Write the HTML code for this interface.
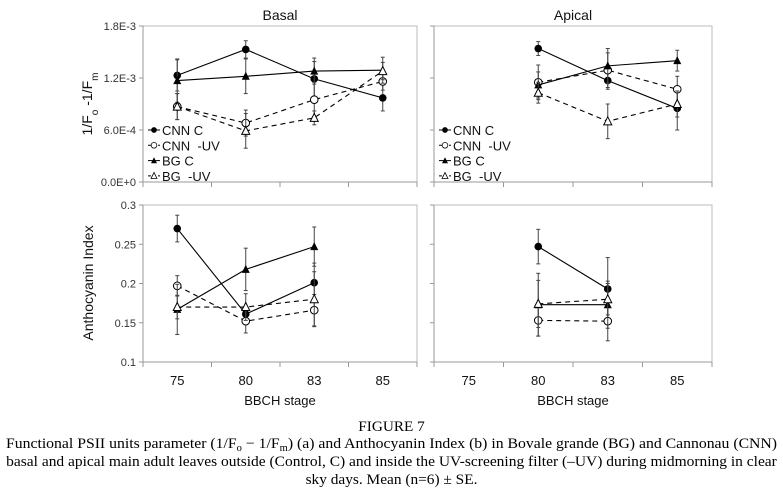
<!DOCTYPE html>
<html><head><meta charset="utf-8"><style>
html,body{margin:0;padding:0;background:#fff;}
svg{display:block;font-family:"Liberation Sans",Arial,sans-serif;}
</style></head><body>
<svg id="fig" width="783" height="497" viewBox="0 0 783 497" xmlns="http://www.w3.org/2000/svg">
<g id="panels"></g>
<text class="cap" data-w="67" data-y="431" x="0" y="0" text-anchor="middle" font-family="Liberation Serif,serif" font-size="15">FIGURE 7</text>
<text class="cap" data-w="772" data-y="448" x="0" y="0" text-anchor="middle" font-family="Liberation Serif,serif" font-size="15">Functional PSII units parameter (1/F<tspan font-size="10" dy="3">o</tspan><tspan dy="-3"> − 1/F</tspan><tspan font-size="10" dy="3">m</tspan><tspan dy="-3">) (a) and Anthocyanin Index (b) in Bovale grande (BG) and Cannonau (CNN)</tspan></text>
<text class="cap" data-w="771" data-y="466" x="0" y="0" text-anchor="middle" font-family="Liberation Serif,serif" font-size="15">basal and apical main adult leaves outside (Control, C) and inside the UV-screening filter (–UV) during midmorning in clear</text>
<text class="cap" data-w="172" data-y="484" x="0" y="0" text-anchor="middle" font-family="Liberation Serif,serif" font-size="15">sky days. Mean (n=6) ± SE.</text>
</svg>
<script>
const categories = ["75","80","83","85"];
const seriesNames = ["CNN C","CNN  -UV","BG C","BG  -UV"];
// top panels: 1/Fo-1/Fm (null = missing)
const basalF_CNN_C  = [1.23e-3,1.53e-3,1.19e-3,0.97e-3];
const basalF_CNN_UV = [0.87e-3,0.68e-3,0.95e-3,1.16e-3];
const basalF_BG_C   = [1.17e-3,1.22e-3,1.28e-3,1.29e-3];
const basalF_BG_UV  = [0.87e-3,0.59e-3,0.74e-3,1.28e-3];
const basalF_err = [[0.18e-3,0.1e-3,0.2e-3,0.15e-3],[0.15e-3,0.15e-3,0.2e-3,0.1e-3],[0.25e-3,0.2e-3,0.15e-3,0.15e-3],[0.15e-3,0.2e-3,0.08e-3,0.1e-3]];
const apicalF_CNN_C  = [null,1.54e-3,1.17e-3,0.85e-3];
const apicalF_CNN_UV = [null,1.15e-3,1.29e-3,1.07e-3];
const apicalF_BG_C   = [null,1.12e-3,1.34e-3,1.40e-3];
const apicalF_BG_UV  = [null,1.03e-3,0.70e-3,0.90e-3];
const apicalF_err = [[0,0.08e-3,0.1e-3,0.25e-3],[0,0.2e-3,0.2e-3,0.15e-3],[0,0.15e-3,0.2e-3,0.12e-3],[0,0.12e-3,0.2e-3,0.15e-3]];
// bottom panels: anthocyanin index
const basalA_CNN_C  = [0.270,0.161,0.201,null];
const basalA_CNN_UV = [0.197,0.152,0.166,null];
const basalA_BG_C   = [0.167,0.218,0.247,null];
const basalA_BG_UV  = [0.170,0.170,0.180,null];
const basalA_err = [[0.017,0.01,0.025,0],[0.013,0.015,0.02,0],[0.032,0.027,0.025,0],[0.015,0.017,0.035,0]];
const apicalA_CNN_C  = [null,0.247,0.193,null];
const apicalA_CNN_UV = [null,0.153,0.152,null];
const apicalA_BG_C   = [null,0.173,0.173,null];
const apicalA_BG_UV  = [null,0.174,0.180,null];
const apicalA_err = [[0,0.022,0.04,0],[0,0.02,0.025,0],[0,0.04,0.03,0],[0,0.03,0.02,0]];
const fTicks = [0,6e-4,1.2e-3,1.8e-3];
const fTickLabels = ["0.0E+0","6.0E-4","1.2E-3","1.8E-3"];
const aTicks = [0.1,0.15,0.2,0.25,0.3];
const aTickLabels = ["0.1","0.15","0.2","0.25","0.3"];

const NS="http://www.w3.org/2000/svg";
const root=document.getElementById('panels');
function mk(tag,attrs,parent){const e=document.createElementNS(NS,tag);for(const k in attrs)e.setAttribute(k,attrs[k]);(parent||root).appendChild(e);return e;}

function marker(g,type,x,y){
  let m;
  if(type===0){m=mk('circle',{cx:x,cy:y,r:3.8,fill:'#000'},g);}
  else if(type===1){m=mk('circle',{cx:x,cy:y,r:3.8,fill:'#fff',stroke:'#000','stroke-width':1},g);}
  else if(type===2){m=mk('path',{d:`M${x-4},${y+3.5}L${x+4},${y+3.5}L${x},${y-4.5}Z`,fill:'#000'},g);}
  else {m=mk('path',{d:`M${x-4},${y+3.5}L${x+4},${y+3.5}L${x},${y-4.5}Z`,fill:'#fff',stroke:'#000','stroke-width':1},g);}
  return m;
}

function panel(opt){
  const g=mk('g',{});
  
  
  const {x0,x1,y0,y1,ymin,ymax}=opt;
  const xs=i=>x0+(x1-x0)/categories.length*(i+0.5);
  const ys=v=>y1-(v-ymin)/(ymax-ymin)*(y1-y0);
  const box=mk('rect',{x:x0,y:y0,width:x1-x0,height:y1-y0,fill:'none',stroke:'#bbb','stroke-width':1},g);
  
  
  mk('line',{x1:x0,y1:y0,x2:x0,y2:y1,stroke:'#999'},g);
  mk('line',{x1:x0,y1:y1,x2:x1,y2:y1,stroke:'#999'},g);
  for(let i=0;i<=categories.length;i++){const tx=x0+(x1-x0)/categories.length*i;mk('line',{x1:tx,y1:y1,x2:tx,y2:y1+5,stroke:'#999'},g);}
  opt.ticks.forEach((t,i)=>{
    mk('line',{x1:x0-4,y1:ys(t),x2:x0,y2:ys(t),stroke:'#999'},g);
    if(opt.showY){const l=mk('text',{x:x0-7,y:ys(t)+4,'text-anchor':'end','font-size':11,fill:'#333'},g);l.textContent=opt.tickLabels[i];
      
      }
  });
  if(opt.showX){categories.forEach((c,i)=>{const l=mk('text',{x:xs(i),y:y1+23,'text-anchor':'middle','font-size':13,fill:'#111'},g);l.textContent=c;
    
    });
    const t=mk('text',{x:(x0+x1)/2,y:y1+43,'text-anchor':'middle','font-size':13,fill:'#111'},g);t.textContent='BBCH stage';
    
    }
  if(opt.title){const t=mk('text',{x:(x0+x1)/2,y:y0-6,'text-anchor':'middle','font-size':14,fill:'#111'},g);t.textContent=opt.title;
    
    }
  opt.series.forEach((vals,s)=>{
    const sg=mk('g',{},g);
    
    
    const dash=(s%2===1)?'5,4':null;
    let d='';let started=false;
    vals.forEach((v,i)=>{if(v==null){started=false;return;}d+=(started?'L':'M')+xs(i)+','+ys(v);started=true;});
    const p=mk('path',{d:d,fill:'none',stroke:'#000','stroke-width':1.1},sg);if(dash)p.setAttribute('stroke-dasharray',dash);
    vals.forEach((v,i)=>{if(v==null)return;const e=opt.err[s][i];
      if(e>0){mk('line',{x1:xs(i),y1:ys(v-e),x2:xs(i),y2:ys(v+e),stroke:'#444','stroke-width':1},sg);
        mk('line',{x1:xs(i)-2,y1:ys(v-e),x2:xs(i)+2,y2:ys(v-e),stroke:'#444'},sg);
        mk('line',{x1:xs(i)-2,y1:ys(v+e),x2:xs(i)+2,y2:ys(v+e),stroke:'#444'},sg);}
      const m=marker(sg,s,xs(i),ys(v));
      
      
    });
  });
  if(opt.legend){
    seriesNames.forEach((n,s)=>{
      const ly=130+s*15.3;const lg=mk('g',{},g);
      
      
      const ln=mk('line',{x1:x0+5,y1:ly,x2:x0+17,y2:ly,stroke:'#000'},lg);if(s%2)ln.setAttribute('stroke-dasharray','3,2');
      const m=marker(lg,s,x0+11,ly);m.setAttribute('transform',`translate(${x0+11},${ly}) scale(0.75) translate(${-(x0+11)},${-ly})`);
      const t=mk('text',{x:x0+19,y:ly+5,'font-size':13,fill:'#111'},lg);t.textContent=n;t.setAttribute('style','white-space:pre');
    });
  }
}

panel({name:'basal-fofm-chart',x0:143,x1:417,y0:26,y1:182,ymin:0,ymax:1.8e-3,ticks:fTicks,tickLabels:fTickLabels,showY:true,showX:false,title:'Basal',legend:true,
  series:[basalF_CNN_C,basalF_CNN_UV,basalF_BG_C,basalF_BG_UV],err:basalF_err});
panel({name:'apical-fofm-chart',x0:434,x1:712,y0:26,y1:182,ymin:0,ymax:1.8e-3,ticks:fTicks,tickLabels:fTickLabels,showY:false,showX:false,title:'Apical',legend:true,
  series:[apicalF_CNN_C,apicalF_CNN_UV,apicalF_BG_C,apicalF_BG_UV],err:apicalF_err});
panel({name:'basal-anthocyanin-chart',x0:143,x1:417,y0:205,y1:362,ymin:0.1,ymax:0.3,ticks:aTicks,tickLabels:aTickLabels,showY:true,showX:true,legend:false,
  series:[basalA_CNN_C,basalA_CNN_UV,basalA_BG_C,basalA_BG_UV],err:basalA_err});
panel({name:'apical-anthocyanin-chart',x0:434,x1:712,y0:205,y1:362,ymin:0.1,ymax:0.3,ticks:aTicks,tickLabels:aTickLabels,showY:false,showX:true,legend:false,
  series:[apicalA_CNN_C,apicalA_CNN_UV,apicalA_BG_C,apicalA_BG_UV],err:apicalA_err});

const yt1=mk('text',{x:0,y:0,transform:'translate(92,104) rotate(-90)','text-anchor':'middle','font-size':14,fill:'#111'});
yt1.innerHTML='1/F<tspan baseline-shift="sub" font-size="10">o</tspan> -1/F<tspan baseline-shift="sub" font-size="10">m</tspan>';


const yt2=mk('text',{x:0,y:0,transform:'translate(93,283) rotate(-90)','text-anchor':'middle','font-size':14,fill:'#111'});
yt2.textContent='Anthocyanin Index';



document.querySelectorAll('text.cap').forEach(t=>{
  const w=t.getBBox().width||1;
  const target=parseFloat(t.getAttribute('data-w'));
  const y=t.getAttribute('data-y');
  t.setAttribute('transform',`translate(391.5,${y}) scale(${target/w},1)`);
});
</script>
</body></html>
